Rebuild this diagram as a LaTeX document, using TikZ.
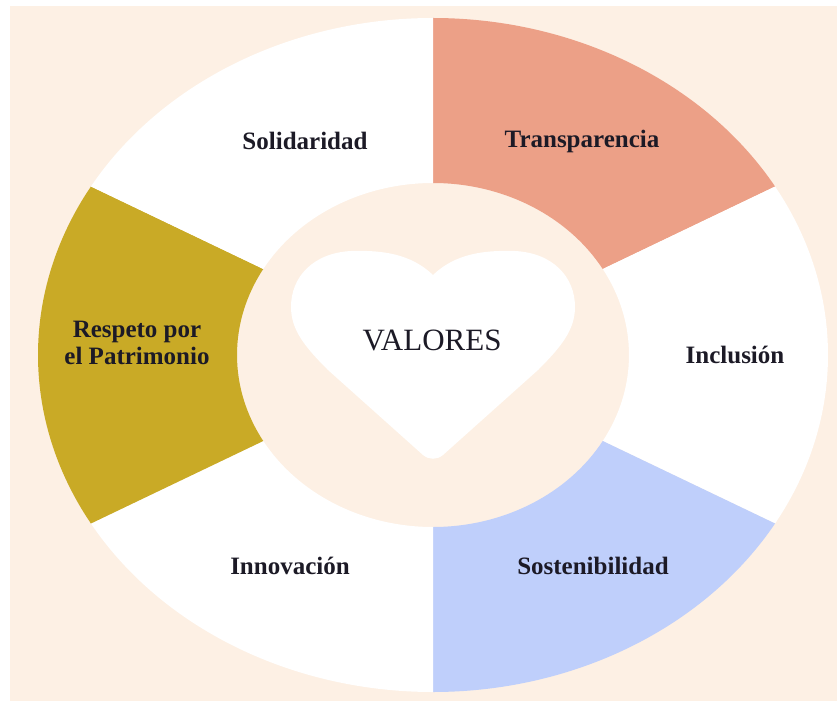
\documentclass[tikz,border=0pt]{standalone}
\usepackage{fontspec}
\setmainfont{Liberation Serif}
\usepackage{tikz}
\usetikzlibrary{
	positioning
}
\definecolor{peach}{HTML}{FDF0E4}
\definecolor{salmon}{HTML}{ECA087}
\definecolor{mustard}{HTML}{C9AA26}
\definecolor{periwinkle}{HTML}{BFCFFB}
\definecolor{ink}{HTML}{1C1A26}
\tikzset{
	value/.style={text=ink,font=\fontsize{25}{27}\selectfont\bfseries,align=center},
	title/.style={text=ink,font=\fontsize{31}{36}\selectfont}
}

\begin{document}
\begin{tikzpicture}[x=1pt,y=1pt]
	\useasboundingbox (-433,-349) rectangle (404,355);
	\fill[white] (-433,-349) rectangle (404,355);
	\fill[peach] (-423,-346) rectangle (404,349);
	% ring of six values
	\foreach \a/\b/\col in {90/30/salmon,30/-30/white,-30/-90/periwinkle,-90/-150/white,-150/-210/mustard,150/90/white}
		\fill[\col] (\a:395 and 337) arc[start angle=\a,end angle=\b,x radius=395,y radius=337]
			-- (\b:196 and 172) arc[start angle=\b,end angle=\a,x radius=196,y radius=172] -- cycle;
	% heart
	\fill[white] (0,80)
		.. controls (-22,101) and (-50,105) .. (-82,104)
		.. controls (-120,102) and (-142,78) .. (-142,48)
		.. controls (-142,25) and (-128,8) .. (-105,-15)
		-- (-10,-100) .. controls (-4,-105) and (4,-105) .. (10,-100)
		-- (105,-15)
		.. controls (128,8) and (142,25) .. (142,48)
		.. controls (142,78) and (120,102) .. (82,104)
		.. controls (50,105) and (22,101) .. (0,80) -- cycle;
	\draw
		node [title]                 (valores)       at (-1,15)     {VALORES}
		node [value]                 (solidaridad)   at (-128,214)  {Solidaridad}
		node [value]                 (transparencia) at (149,214)   {Transparencia}
		node [value]                 (inclusion)     at (302,0)     {Inclusión}
		node [value]                 (sostenib)      at (160,-211)  {Sostenibilidad}
		node [value]                 (innovacion)    at (-143,-211) {Innovación}
		node [value]                 (respeto)       at (-296,12)   {Respeto por\\el Patrimonio}
	;
\end{tikzpicture}
\end{document}
